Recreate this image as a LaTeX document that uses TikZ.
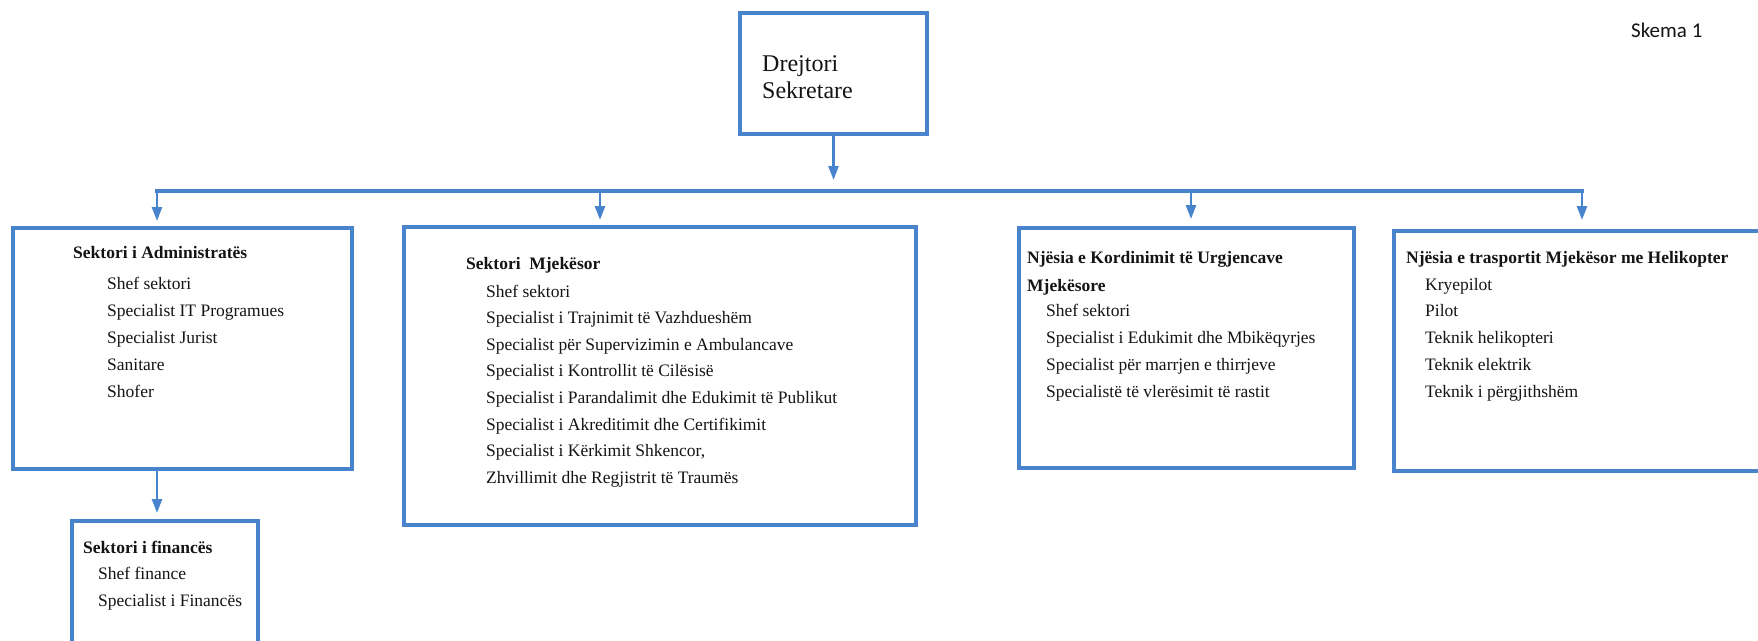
\documentclass[tikz,border=0pt]{standalone}
\usepackage{fontspec}
\setmainfont{Liberation Serif}
\newfontfamily\skfont{Carlito}
\usetikzlibrary{arrows.meta}
\definecolor{orgblue}{RGB}{72,132,206}
\definecolor{txt}{RGB}{20,20,20}
\begin{document}
\begin{tikzpicture}[x=1pt,y=-1pt,
  box/.style={draw=orgblue, line width=4pt, rectangle, inner sep=0pt, outer sep=0pt},
  arr/.style={draw=orgblue, line width=2.6pt, -{Triangle[length=14pt,width=10pt]}},
  bus/.style={draw=orgblue, line width=4pt},
  ln/.style={anchor=base west, inner sep=0pt, text=txt, font=\fontsize{17.5}{21}\selectfont},
  ttl/.style={anchor=base west, inner sep=0pt, text=txt, font=\fontsize{17.5}{21}\selectfont\bfseries},
  big/.style={anchor=base west, inner sep=0pt, text=txt, font=\fontsize{24}{27}\selectfont}]
\useasboundingbox (0,0) rectangle (1758,640);
\fill[white] (0,0) rectangle (1758,640);

% boxes
\node[box, minimum width=187pt, minimum height=121pt] (top) at (833.5,73.5) {};
\node[box, minimum width=339pt, minimum height=241pt] (b1) at (182.5,348.5) {};
\node[box, minimum width=512pt, minimum height=298pt] (b2) at (660,376) {};
\node[box, minimum width=335pt, minimum height=240pt] (b3) at (1186.5,348) {};
\node[box, minimum width=396pt, minimum height=240pt] (b4) at (1592,351) {};
\node[box, minimum width=186pt, minimum height=159pt] (b5) at (165,600.5) {};

% top text
\node[big] (d1) at (762,71) {Drejtori};
\node[big] (d2) at (762,98) {Sekretare};
\node[anchor=base west, inner sep=0pt, text=txt, font=\skfont\fontsize{21}{24}\selectfont] (skema) at (1631,37) {Skema 1};

% box 1
\node[ttl] (t1) at (73,258) {Sektori i Administratës};
\foreach \t [count=\i] in {Shef sektori, Specialist IT Programues, Specialist Jurist, Sanitare, Shofer}
  \node[ln] (a\i) at (107,{289+27*(\i-1)}) {\t};

% box 2
\node[ttl] (t2) at (466,269) {Sektori\ \ Mjekësor};
\foreach \t [count=\i] in {Shef sektori, Specialist i Trajnimit të Vazhdueshëm, Specialist për Supervizimin e Ambulancave, Specialist i Kontrollit të Cilësisë, Specialist i Parandalimit dhe Edukimit të Publikut, Specialist i Akreditimit dhe Certifikimit, {Specialist i Kërkimit Shkencor,}, Zhvillimit dhe Regjistrit të Traumës}
  \node[ln] (m\i) at (486,{297+26.6*(\i-1)}) {\t};

% box 3
\node[ttl] (t3a) at (1027,263) {Njësia e Kordinimit të Urgjencave};
\node[ttl] (t3b) at (1027,291) {Mjekësore};
\foreach \t [count=\i] in {Shef sektori, Specialist i Edukimit dhe Mbikëqyrjes, Specialist për marrjen e thirrjeve, Specialistë të vlerësimit të rastit}
  \node[ln] (k\i) at (1046,{316+27*(\i-1)}) {\t};

% box 4
\node[ttl] (t4) at (1406,263) {Njësia e trasportit Mjekësor me Helikopter};
\foreach \t [count=\i] in {Kryepilot, Pilot, Teknik helikopteri, Teknik elektrik, Teknik i përgjithshëm}
  \node[ln] (h\i) at (1425,{290+26.8*(\i-1)}) {\t};

% box 5
\node[ttl] (t5) at (83,553) {Sektori i financës};
\node[ln] (f1) at (98,579) {Shef finance};
\node[ln] (f2) at (98,606) {Specialist i Financës};

% connectors
\coordinate (tj) at (833.5,180);
\coordinate (bl) at (155,191);
\coordinate (br) at (1583.5,191);
\coordinate (j1) at (157,191);
\coordinate (j2) at (600,191);
\coordinate (j3) at (1191,191);
\coordinate (j4) at (1582,191);
\draw[arr] (top.south) -- (tj);
\draw[bus] (bl) -- (br);
\draw[arr, shorten >=7pt] (j1) -- (j1 |- b1.north);
\draw[arr, shorten >=7pt] (j2) -- (j2 |- b2.north);
\draw[arr, shorten >=9pt] (j3) -- (j3 |- b3.north);
\draw[arr, shorten >=11pt] (j4) -- (j4 |- b4.north);
\draw[arr, shorten >=8pt] (b1.south -| j1) -- (b5.north -| j1);
\end{tikzpicture}
\end{document}
